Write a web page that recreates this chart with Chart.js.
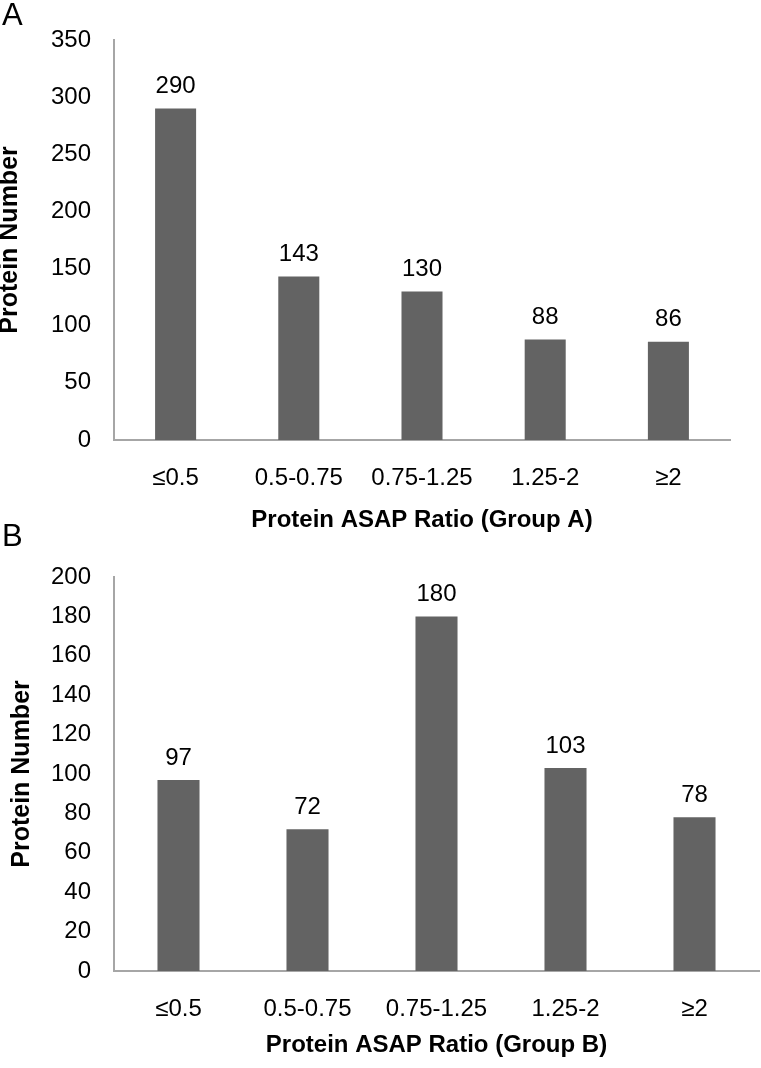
<!doctype html>
<html>
	<head>
		<meta charset="utf-8" />
		<title>Protein ASAP Ratio</title>
		<script src="https://cdn.jsdelivr.net/npm/chart.js@4.4.1/dist/chart.umd.min.js"></script>
		<style>
			html,
			body {
				margin: 0;
				padding: 0;
				background: #fff;
			}
			#wrap {
				position: relative;
				width: 761px;
				height: 1068px;
				overflow: hidden;
			}
			canvas {
				position: absolute;
				left: 0;
			}
			#chartA {
				top: 0;
			}
			#chartB {
				top: 505px;
			}
		</style>
	</head>

	<body>
		<div id="wrap">
			<canvas id="chartA" width="761" height="540"></canvas>
			<canvas id="chartB" width="761" height="563"></canvas>
		</div>

		<script>
			// data
			const ratioBins = ["≤0.5", "0.5-0.75", "0.75-1.25", "1.25-2", "≥2"];
			const groupACounts = [290, 143, 130, 88, 86];
			const groupBCounts = [97, 72, 180, 103, 78];
			const groupATicks = { max: 350, step: 50 };
			const groupBTicks = { max: 200, step: 20 };

			const fontFamily = '"Liberation Sans", Arial, Helvetica, sans-serif';
			const barColor = "#636363";
			const axisColor = "#a6a6a6";

			// value above each bar + the panel letter
			const barValues = {
				id: "barValues",
				afterDatasetsDraw(chart, args, opts) {
					const ctx = chart.ctx;
					const values = chart.data.datasets[0].data;
					ctx.save();
					ctx.font = "24px " + fontFamily;
					ctx.fillStyle = "#000";
					ctx.textAlign = "center";
					ctx.textBaseline = "middle";
					chart.getDatasetMeta(0).data.forEach((bar, i) => {
						ctx.fillText(String(values[i]), bar.x, bar.y - 22);
					});
					ctx.font = "31px " + fontFamily;
					ctx.textAlign = "left";
					ctx.textBaseline = "alphabetic";
					ctx.fillText(opts.letter, 2, opts.letterY);
					ctx.restore();
				},
			};

			function makeChart(id, values, ticks, cfg) {
				return new Chart(document.getElementById(id), {
					type: "bar",
					data: {
						labels: ratioBins,
						datasets: [
							{
								data: values,
								backgroundColor: barColor,
								barPercentage: 1,
								categoryPercentage: cfg.barFrac,
							},
						],
					},
					options: {
						responsive: false,
						animation: false,
						layout: {
							padding: { left: 0, right: cfg.right, top: cfg.top, bottom: 0 },
						},
						plugins: {
							legend: { display: false },
							tooltip: { enabled: false },
							barValues: { letter: cfg.letter, letterY: cfg.letterY },
						},
						scales: {
							x: {
								grid: { display: false, drawTicks: false },
								border: { display: true, color: axisColor, width: 2 },
								ticks: {
									color: "#000",
									font: { family: fontFamily, size: 24 },
									padding: 24,
									autoSkip: false,
									maxRotation: 0,
								},
								title: {
									display: true,
									text: cfg.xTitle,
									color: "#000",
									font: { family: fontFamily, size: 24, weight: "bold" },
									padding: { top: 0, bottom: cfg.xTitlePad },
								},
								afterFit(scale) {
									scale.height = cfg.xHeight;
								},
							},
							y: {
								min: 0,
								max: ticks.max,
								grid: { display: false, drawTicks: false },
								border: { display: true, color: axisColor, width: 2 },
								ticks: {
									stepSize: ticks.step,
									color: "#000",
									font: { family: fontFamily, size: 24 },
									padding: 23,
								},
								title: {
									display: true,
									text: "Protein Number",
									color: "#000",
									font: {
										family: fontFamily,
										size: 25,
										weight: "bold",
										lineHeight: 0.8,
									},
									padding: { top: cfg.yTitlePad, bottom: 0 },
								},
								afterFit(scale) {
									scale.width = 114;
								},
							},
						},
					},
					plugins: [barValues],
				});
			}

			makeChart("chartA", groupACounts, groupATicks, {
				letter: "A",
				letterY: 25,
				top: 40,
				right: 31,
				xHeight: 100,
				xTitlePad: 5,
				yTitlePad: 0,
				barFrac: 0.333,
				xTitle: "Protein ASAP Ratio (Group A)",
			});

			makeChart("chartB", groupBCounts, groupBTicks, {
				letter: "B",
				letterY: 41,
				top: 72,
				right: 2,
				xHeight: 97,
				xTitlePad: 8,
				yTitlePad: 12,
				barFrac: 0.326,
				xTitle: "Protein ASAP Ratio (Group B)",
			});
		</script>
	</body>
</html>
